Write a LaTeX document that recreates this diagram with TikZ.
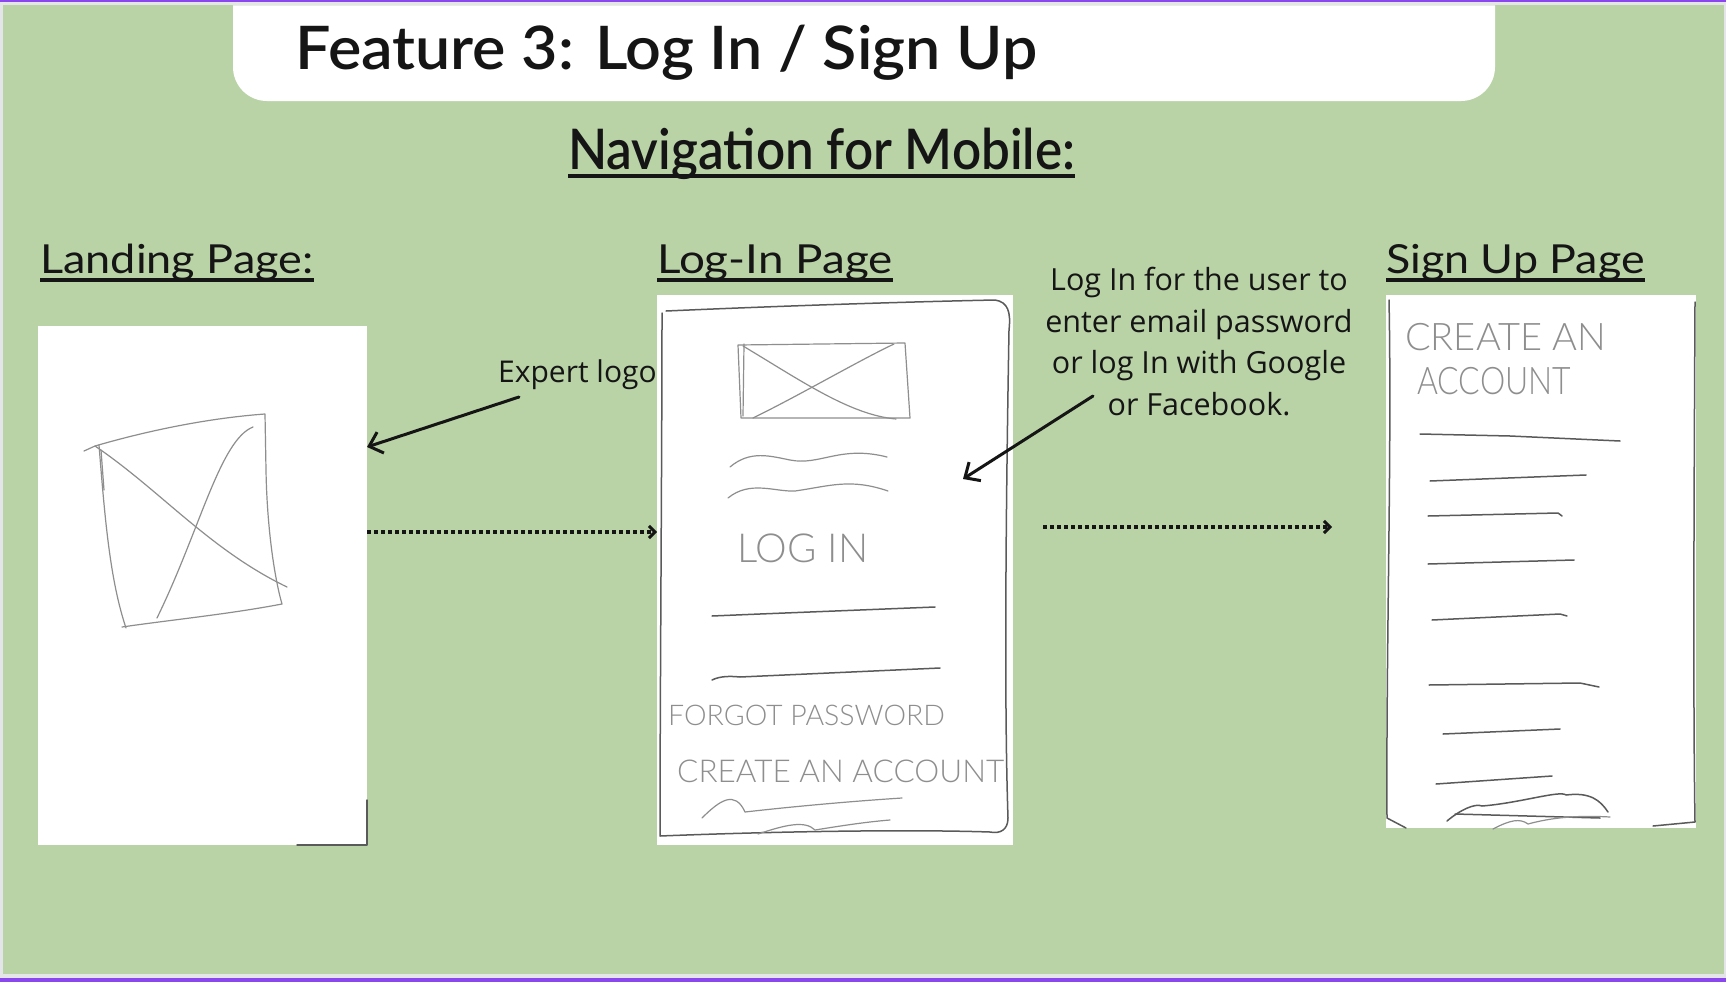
\documentclass[tikz,border=0pt]{standalone}
\usepackage{fontspec}
\usetikzlibrary{arrows.meta}
\setmainfont{Open Sans}
\newfontfamily\headfont{Lato}
\IfFontExistsTF{Lato Semibold}{\newfontfamily\titlefont{Lato Semibold}}{\newcommand\titlefont{\headfont\bfseries}}
\IfFontExistsTF{Lato Light}{\newfontfamily\sketchfont{Lato Light}}{\newcommand\sketchfont{\headfont}}

\definecolor{canvasgreen}{HTML}{B9D3A7}
\definecolor{framegray}{HTML}{E3E5E8}
\definecolor{barpurple}{HTML}{8B47EE}
\definecolor{pencil}{HTML}{8E8E8E}
\definecolor{darkpencil}{HTML}{5A5A5A}
\definecolor{ink}{HTML}{151515}

\tikzset{
  heading/.style={anchor=base west, inner sep=0pt, font=\headfont\fontsize{40}{44}\selectfont, text=ink},
  note/.style={inner sep=0pt, text=ink, font=\fontsize{30.5}{41.5}\selectfont},
  sheet/.style={fill=white, draw=none},
  pencilline/.style={draw=pencil, line width=1.2pt, line cap=round, line join=round},
  darkline/.style={draw=darkpencil, line width=1.5pt, line cap=round, line join=round},
  sketchtext/.style={inner sep=0pt, text=pencil, font=\sketchfont},
  pointer/.style={draw=ink, line width=3pt, line cap=round, -{Straight Barb[length=12pt, width=22pt, line width=3pt]}},
  flow/.style={draw=ink, line width=3.5pt, dash pattern=on 3.5pt off 3.5pt, -{Straight Barb[length=6pt, width=12pt, line width=3pt]}},
}

\begin{document}
\begin{tikzpicture}[x=1pt, y=-1pt]
  % frame and canvas
  \useasboundingbox (0,0) rectangle (1726,982);
  \fill[framegray] (0,0) rectangle (1726,982);
  \fill[barpurple] (0,0) rectangle (1726,2.5);
  \fill[barpurple] (0,977.5) rectangle (1726,982);
  \fill[canvasgreen] (3,5.5) rectangle (1723.5,974);

  % title banner
  \fill[white] (233,5.5) [rounded corners=34pt] -- (233,101) -- (1495,101) [sharp corners] -- (1495,5.5) -- cycle;
  \node[anchor=base west, inner sep=0pt, text=ink, font=\titlefont\fontsize{60}{66}\selectfont] (title) at (295,70) {\scalebox{1.047}[1]{Feature 3: Log In / Sign Up}};

  % subtitle
  \node[anchor=base west, inner sep=0pt, text=ink, font=\titlefont\fontsize{56}{62}\selectfont] (nav) at (568,169) {\scalebox{0.914}[1]{Navigation for Mobile:}};
  \draw[ink, line width=4pt] ([yshift=-7pt]nav.base west) -- ([yshift=-7pt]nav.base east);

  % column headings
  \node[heading] (hland) at (40,273) {\scalebox{1.125}[1]{Landing Page:}};
  \node[heading] (hlog) at (657,273) {\scalebox{1.145}[1]{Log-In Page}};
  \node[heading] (hsign) at (1386,273) {\scalebox{1.12}[1]{Sign Up Page}};
  \foreach \h in {hland,hlog,hsign}
    \draw[ink, line width=3.5pt] ([yshift=-7pt]\h.base west) -- ([yshift=-7pt]\h.base east);

  % ---------- landing page sheet ----------
  \fill[sheet] (38,326) rectangle (367,845);
  \coordinate (landsheet) at (367,420);
  \coordinate (landright) at (367,532);
  \draw[darkline] (367,800) -- (367,845) -- (297,845);
  % logo placeholder
  \draw[pencilline] (84,451) -- (95,446) .. controls (150,430) and (210,418) .. (265,414)
        -- (266,470) .. controls (267,530) and (275,580) .. (282,604)
        .. controls (230,614) and (170,620) .. (122,627);
  \draw[pencilline] (99,445) .. controls (105,520) and (110,580) .. (126,628);
  \draw[pencilline] (101,450) -- (104,490);
  \draw[pencilline] (95,446) .. controls (160,490) and (210,550) .. (287,587);
  \draw[pencilline] (157,618) .. controls (200,530) and (220,440) .. (253,427);

  % ---------- log-in page sheet ----------
  \fill[sheet] (657,295) rectangle (1013,845);
  \coordinate (loginleft) at (657,532);
  \coordinate (loginright) at (1013,527);
  \coordinate (loginform) at (963,479);
  \draw[darkline] (666,311) .. controls (780,306) and (900,302) .. (995,300)
        .. controls (1008,302) and (1011,312) .. (1009,330)
        .. controls (1006,500) and (1004,700) .. (1008,818)
        .. controls (1008,830) and (1000,834) .. (990,832)
        .. controls (900,829) and (760,832) .. (660,836)
        .. controls (660,700) and (662,450) .. (662,313);
  % logo placeholder
  \draw[pencilline] (738,345) -- (905,343) -- (910,418) -- (741,418) -- cycle;
  \draw[pencilline] (744,344) -- (743,416);
  \draw[pencilline] (743,346) .. controls (800,380) and (850,415) .. (896,419);
  \draw[pencilline] (753,418) .. controls (800,395) and (860,360) .. (894,344);
  % headline scribbles
  \draw[pencilline] (730,467) .. controls (750,450) and (770,456) .. (790,460)
        .. controls (820,466) and (840,445) .. (887,457);
  \draw[pencilline] (728,498) .. controls (750,480) and (775,492) .. (795,491)
        .. controls (830,486) and (850,478) .. (888,491);
  \node[sketchtext, anchor=base west, font=\sketchfont\fontsize{40}{44}\selectfont] (logintitle) at (737,562) {LOG IN};
  % input fields
  \draw[darkline] (712,616) -- (760,614) -- (935,607);
  \draw[darkline] (712,680) .. controls (720,676) and (730,676) .. (740,677) -- (940,668);
  \node[sketchtext, anchor=base west, font=\sketchfont\fontsize{28.5}{32}\selectfont] (forgot) at (668,725) {FORGOT PASSWORD};
  \node[sketchtext, anchor=base west, font=\sketchfont\fontsize{31.5}{34}\selectfont] (create) at (677,782) {CREATE AN ACCOUNT};
  \draw[pencilline] (702,818) .. controls (720,800) and (735,790) .. (745,812)
        .. controls (780,808) and (840,802) .. (902,798);
  \draw[pencilline] (758,834) .. controls (785,825) and (805,820) .. (815,830)
        .. controls (840,826) and (865,822) .. (890,820);

  % ---------- sign-up page sheet ----------
  \fill[sheet] (1386,295) rectangle (1696,828);
  \coordinate (signleft) at (1332,527);
  \draw[darkline] (1389,300) .. controls (1392,450) and (1386,650) .. (1387,818) -- (1406,828);
  \draw[darkline] (1695,302) .. controls (1694,500) and (1693,700) .. (1695,822) -- (1653,826);
  \node[sketchtext, anchor=base west, font=\sketchfont\fontsize{38}{42}\selectfont] (createan) at (1405,350) {CREATE AN};
  \node[sketchtext, anchor=base west, font=\sketchfont\fontsize{38}{42}\selectfont] (account) at (1417,394) {\scalebox{0.84}[1]{ACCOUNT}};
  \draw[darkline] (1420,434) -- (1510,436) -- (1620,441);
  \draw[darkline] (1430,481) -- (1586,475);
  \draw[darkline] (1428,516) -- (1558,513) -- (1562,516);
  \draw[darkline] (1428,564) -- (1574,560);
  \draw[darkline] (1432,620) -- (1560,614) -- (1567,616);
  \draw[darkline] (1429,685) -- (1580,683) -- (1599,687);
  \draw[darkline] (1443,734) -- (1560,729);
  \draw[darkline] (1436,784) -- (1552,776);
  \draw[darkline] (1447,821) .. controls (1460,810) and (1475,803) .. (1482,806)
        .. controls (1520,803) and (1560,790) .. (1566,795)
        .. controls (1590,792) and (1600,800) .. (1608,812);
  \draw[darkline] (1455,814) -- (1600,818);
  \draw[pencilline] (1493,829) .. controls (1510,820) and (1520,818) .. (1528,824)
        .. controls (1550,818) and (1575,815) .. (1610,817);

  % ---------- annotations ----------
  \node[note, anchor=base west, font=\fontsize{30}{36}\selectfont] (logonote) at (498,382) {Expert logo};
  \node[note, align=center, anchor=north] (loginnote) at (1199,267)
    {Log In for the user to\\enter email password\\or log In with Google\\or Facebook.};
  \coordinate (logotail) at (519,397);
  \coordinate (logintail) at (1093,396);
  \draw[pointer] (logotail) -- (landsheet |- 0,447) ;
  \draw[pointer] (logintail) -- (loginform);

  % navigation flow
  \draw[flow] (landright) -- (loginleft);
  \draw[flow] ([xshift=30pt]loginright) -- (signleft);
\end{tikzpicture}
\end{document}
